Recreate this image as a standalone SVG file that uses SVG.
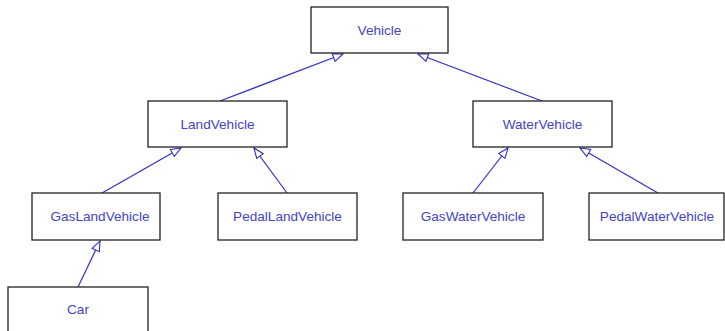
<svg xmlns="http://www.w3.org/2000/svg" width="725" height="331" viewBox="0 0 725 331">
<defs>
<style>
.box{fill:#ffffff;stroke:#222222;stroke-width:1.3}
.lbl{font-family:"Liberation Sans",Arial,sans-serif;font-size:13.6px;fill:#4444c4;text-anchor:middle;dominant-baseline:central}
.edge{stroke:#3030c0;stroke-width:1.2;fill:none;marker-end:url(#tri)}
</style>
<marker id="tri" viewBox="0 0 12 10" refX="11" refY="5" markerWidth="12" markerHeight="10" markerUnits="userSpaceOnUse" orient="auto">
<path d="M1,1 L11,5 L1,9 Z" fill="#ffffff" stroke="#3030c0" stroke-width="1.1"/>
</marker>
</defs>
<rect width="725" height="331" fill="#ffffff"/>
<g id="connectors">
<line class="edge" x1="220" y1="101" x2="343" y2="54"/>
<line class="edge" x1="542" y1="101" x2="418" y2="54"/>
<line class="edge" x1="102" y1="193" x2="181" y2="148"/>
<line class="edge" x1="287" y1="193" x2="254" y2="148"/>
<line class="edge" x1="78" y1="287" x2="100" y2="241"/>
<line class="edge" x1="473" y1="193" x2="508" y2="148"/>
<line class="edge" x1="658" y1="193" x2="580" y2="148"/>
</g>
<g id="Vehicle"><rect class="box" x="311" y="7" width="137" height="46"/><text class="lbl" x="379.5" y="30">Vehicle</text></g>
<g id="LandVehicle"><rect class="box" x="148" y="101" width="139" height="46"/><text class="lbl" x="217.5" y="124">LandVehicle</text></g>
<g id="WaterVehicle"><rect class="box" x="473" y="101" width="139" height="46"/><text class="lbl" x="542.5" y="124">WaterVehicle</text></g>
<g id="GasLandVehicle"><rect class="box" x="32" y="193" width="128" height="47"/><text class="lbl" x="100" y="216">GasLandVehicle</text></g>
<g id="PedalLandVehicle"><rect class="box" x="218" y="193" width="139" height="47"/><text class="lbl" x="287.5" y="216">PedalLandVehicle</text></g>
<g id="GasWaterVehicle"><rect class="box" x="403" y="193" width="140" height="47"/><text class="lbl" x="473" y="216">GasWaterVehicle</text></g>
<g id="PedalWaterVehicle"><rect class="box" x="589" y="193" width="135" height="47"/><text class="lbl" x="657" y="216">PedalWaterVehicle</text></g>
<g id="Car"><rect class="box" x="8" y="287" width="140" height="50"/><text class="lbl" x="78" y="309">Car</text></g>
</svg>
